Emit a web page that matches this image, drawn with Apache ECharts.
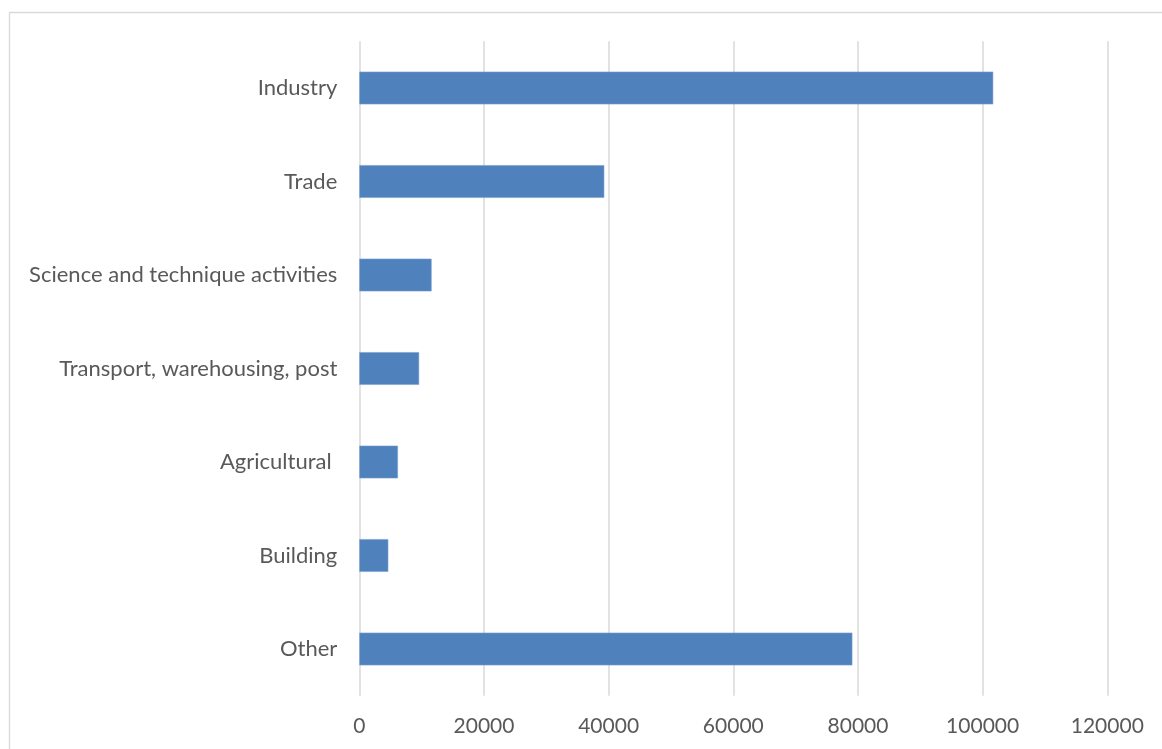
<!DOCTYPE html>
<html>
<head>
<meta charset="utf-8">
<script src="https://cdn.jsdelivr.net/npm/echarts@6/dist/echarts.min.js"></script>
<style>
html,body{margin:0;padding:0;background:#fff;}
#c{width:1162px;height:749px;}
</style>
</head>
<body>
<div id="c"></div>
<script>
var categories = ["Industry", "Trade", "Science and technique activities", "Transport, warehousing, post", "Agricultural ", "Building", "Other"];
var values = [101700, 39300, 11600, 9600, 6200, 4650, 79100];
var xTicks = {min: 0, max: 120000, interval: 20000};

var chart = echarts.init(document.getElementById('c'), null, {renderer: 'canvas'});
chart.setOption({
  animation: false,
  backgroundColor: '#ffffff',
  graphic: [{
    type: 'rect',
    shape: {x: 9.5, y: 12.5, width: 1300, height: 900},
    style: {fill: 'none', stroke: '#d9d9d9', lineWidth: 1.3},
    silent: true
  }],
  grid: {left: 359.3, right: 54.7, top: 41.25, bottom: 53.25, containLabel: false},
  xAxis: {
    type: 'value',
    min: xTicks.min, max: xTicks.max, interval: xTicks.interval,
    axisLine: {show: false},
    axisTick: {show: false},
    splitLine: {show: true, lineStyle: {color: '#d9d9d9', width: 1.5}},
    axisLabel: {color: '#595959', fontSize: 21, fontFamily: 'Lato, "Open Sans", sans-serif', margin: 20,
      formatter: function (v) { return String(v); }}
  },
  yAxis: {
    type: 'category',
    data: categories,
    inverse: true,
    axisLine: {show: false},
    axisTick: {show: false},
    axisLabel: {color: '#595959', fontSize: 22, fontFamily: 'Lato, "Open Sans", sans-serif', margin: 22}
  },
  series: [{
    type: 'bar',
    data: values,
    barWidth: '35%',
    itemStyle: {color: '#4f81bd', borderColor: '#7aa0cf', borderWidth: 0.6}
  }]
});
</script>
</body>
</html>
